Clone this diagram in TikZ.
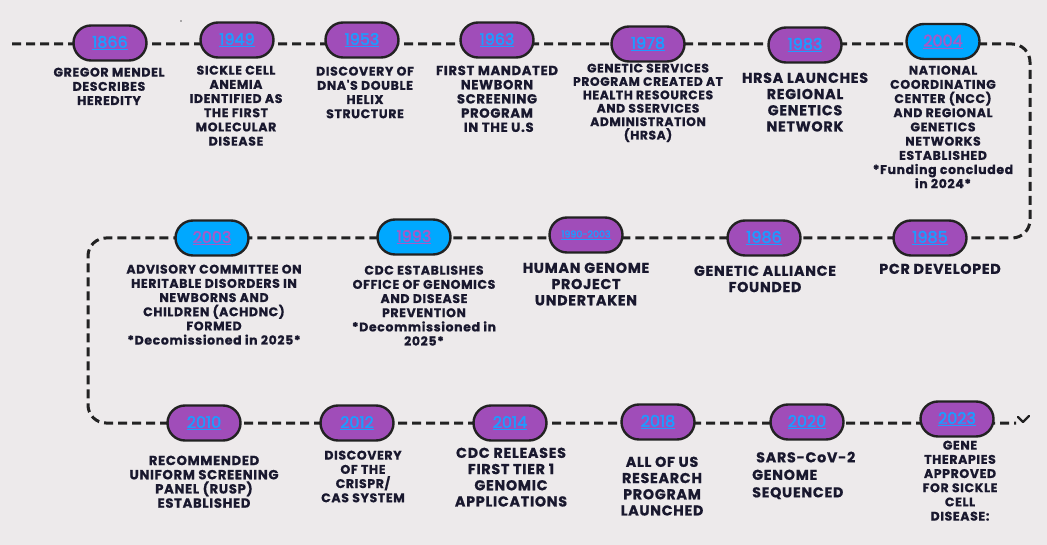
\documentclass[tikz,border=0pt]{standalone}
\usepackage{fontspec}
\usetikzlibrary{shapes.misc}
\newfontfamily\tf{Poppins}[LetterSpace=5, BoldFeatures={FakeBold=0.8}]
\newfontfamily\yf{Poppins}[FakeBold=2.5]
\definecolor{bg}{HTML}{EDEAEB}
\definecolor{pur}{HTML}{A04DB9}
\definecolor{cya}{HTML}{00A8FF}
\definecolor{yblue}{HTML}{1E9BFF}
\definecolor{ypur}{HTML}{A55BC8}
\definecolor{txt}{HTML}{19182E}
\definecolor{ln}{HTML}{222222}
\tikzset{
  pill/.style={rounded rectangle, draw=ln, line width=2.4pt, fill=pur, text=yblue,
    minimum width=73pt, minimum height=35pt, inner sep=0pt,
    font=\yf\fontsize{16}{17}\selectfont},
  cpill/.style={pill, fill=cya, text=ypur},
  tline/.style={draw=ln, line width=3pt, dash pattern=on 9pt off 5pt, rounded corners=18pt},
  ev/.style={align=center, text=txt, inner sep=0pt, anchor=north,
    font=\tf\bfseries\fontsize{12.5}{14.2}\selectfont},
  evs/.style={ev, font=\tf\bfseries\fontsize{12.3}{13.4}\selectfont},
  evl/.style={ev, font=\tf\bfseries\fontsize{13.2}{14.2}\selectfont},
  evb/.style={ev, font=\tf\bfseries\fontsize{14.3}{16.2}\selectfont},
}
\begin{document}
\begin{tikzpicture}[x=1pt,y=-1pt]
\useasboundingbox (0,0) rectangle (1047,545);
\fill[bg] (0,0) rectangle (1047,545);
\fill[ln!70] (181,21) circle (0.9pt);
% timeline path
\coordinate (s) at (12,44);
\coordinate (c1) at (1030,44);
\coordinate (c2) at (1030,238);
\coordinate (c3) at (88,238);
\coordinate (c4) at (88,423);
\coordinate (e) at (1016,423);
\draw[tline] (s) -- (c1) -- (c2) -- (c3) -- (c4) -- (e);
\draw[ln, line width=2.4pt, line cap=round, line join=round] (1018,417) -- (1023,422) -- (1029,416);
% top row
\node[pill] (p1866) at (110,43) {\underline{1866}};
\node[pill] (p1949) at (237,40) {\underline{1949}};
\node[pill] (p1953) at (362,40) {\underline{1953}};
\node[pill] (p1963) at (497,40) {\underline{1963}};
\node[pill] (p1978) at (648,44) {\underline{1978}};
\node[pill] (p1983) at (805,45) {\underline{1983}};
\node[cpill] (p2004) at (943,41.5) {\underline{2004}};
% middle row
\node[cpill] (p2003) at (212,238) {\underline{2003}};
\node[cpill] (p1993) at (414,237) {\underline{1993}};
\node[pill, font=\yf\fontsize{9.5}{10}\selectfont] (p1990) at (586,235) {\underline{1990-2003}};
\node[pill] (p1986) at (764,238) {\underline{1986}};
\node[pill] (p1985) at (930,238) {\underline{1985}};
% bottom row
\node[pill] (p2010) at (204,423) {\underline{2010}};
\node[pill] (p2012) at (357,423) {\underline{2012}};
\node[pill] (p2014) at (510,423) {\underline{2014}};
\node[pill] (p2018) at (658,422) {\underline{2018}};
\node[pill] (p2020) at (807,422) {\underline{2020}};
\node[pill] (p2023) at (957,419) {\underline{2023}};
% texts top
\node[ev] (t1866) at (109,67.5) {GREGOR MENDEL\\DESCRIBES\\HEREDITY};
\node[ev] (t1949) at (236,65.5) {SICKLE CELL\\ANEMIA\\IDENTIFIED AS\\THE FIRST\\MOLECULAR\\DISEASE};
\node[ev] (t1953) at (365,66.5) {DISCOVERY OF\\DNA'S DOUBLE\\HELIX\\STRUCTURE};
\node[evl] (t1963) at (497,65.5) {FIRST MANDATED\\NEWBORN\\SCREENING\\PROGRAM\\\ IN THE U.S};
\node[evs] (t1978) at (648,63.5) {GENETIC SERVICES\\PROGRAM CREATED AT\\HEALTH RESOURCES\\AND SSERVICES\\ADMINISTRATION\\(HRSA)};
\node[evb] (t1983) at (805,72.5) {HRSA LAUNCHES\\REGIONAL\\GENETICS\\NETWORK};
\node[ev] (t2004) at (943,65.5) {NATIONAL\\COORDINATING\\CENTER (NCC)\\AND REGIONAL\\GENETICS\\NETWORKS\\ESTABLISHED\\*Funding concluded\\in 2024*};
% texts middle
\node[ev] (t2003) at (214,264.5) {ADVISORY COMMITTEE ON\\HERITABLE DISORDERS IN\\NEWBORNS AND\\CHILDREN (ACHDNC)\\FORMED\\*Decomissioned in 2025*};
\node[ev] (t1993) at (424,265.5) {CDC ESTABLISHES\\OFFICE OF GENOMICS\\AND DISEASE\\PREVENTION\\*Decommissioned in\\2025*};
\node[evb] (t1990) at (586,262.5) {HUMAN GENOME\\PROJECT\\UNDERTAKEN};
\node[evb] (t1986) at (765,265.5) {GENETIC ALLIANCE\\FOUNDED};
\node[evb] (t1985) at (940,263.5) {PCR DEVELOPED};
% texts bottom
\node[evl] (t2010) at (204,455.5) {RECOMMENDED\\UNIFORM SCREENING\\PANEL (RUSP)\\ESTABLISHED};
\node[ev] (t2012) at (363,450.5) {DISCOVERY\\OF THE\\CRISPR/\\CAS SYSTEM};
\node[evb] (t2014) at (511,447.5) {CDC RELEASES\\FIRST TIER 1\\GENOMIC\\APPLICATIONS};
\node[evb] (t2018) at (662,456.5) {ALL OF US\\RESEARCH\\PROGRAM\\LAUNCHED};
\node[evb, align=left, anchor=north west, font=\tf\bfseries\fontsize{14.3}{17.5}\selectfont] (t2020) at (752,451.5) {\hspace{4pt}SARS-CoV-2\\GENOME\\SEQUENCED};
\node[ev] (t2023) at (960,440.5) {GENE\\THERAPIES\\APPROVED\\FOR SICKLE\\CELL\\DISEASE:};
\end{tikzpicture}
\end{document}
